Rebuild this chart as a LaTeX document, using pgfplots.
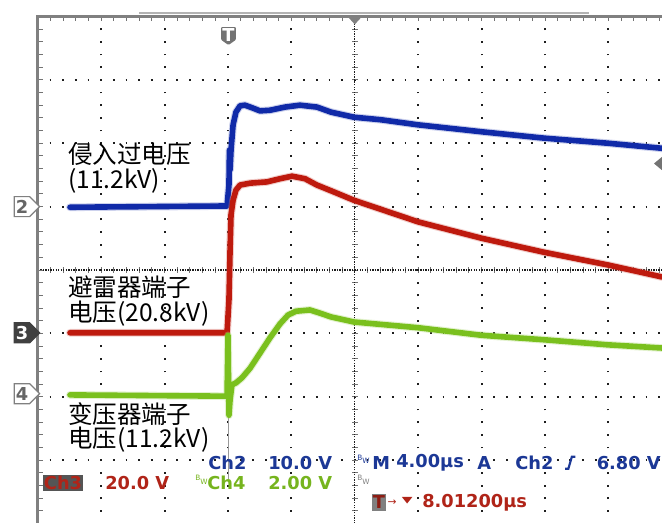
\documentclass[border=0pt]{standalone}
\usepackage{pgfplots}
\pgfplotsset{compat=1.18}
\usepackage{fontspec}
\setmainfont{DejaVu Sans}
\newfontfamily\cjk{Noto Sans CJK SC}
\usetikzlibrary{shapes.symbols}
\definecolor{tblue}{RGB}{16,42,168}
\definecolor{tred}{RGB}{190,26,14}
\definecolor{tgreen}{RGB}{122,192,30}
\definecolor{lblue}{RGB}{28,56,150}
\definecolor{lred}{RGB}{176,36,24}
\definecolor{lgreen}{RGB}{118,180,30}
\definecolor{dotc}{RGB}{30,30,30}
\definecolor{bordc}{RGB}{128,128,128}
\definecolor{boxc}{RGB}{85,85,85}
\newcommand\sfnt{\fontsize{13.35}{14}\selectfont\bfseries}
\newcommand\cjkf{\cjk\fontsize{18.4}{20}\selectfont}
\newcommand\bw{\fontsize{5.5}{5.5}\selectfont\mdseries B\raisebox{-2.5pt}{W}}
\tikzset{
  griddot/.style={draw=dotc, line width=1.4pt, dash pattern=on 1.4pt off 8.11pt, dash phase=0.7pt},
  ticks/.style={draw=black!55, line width=4.5pt, dash pattern=on 0.75pt off 8.76pt, dash phase=0.375pt},
  trace/.style={line width=4.2pt, line join=round, line cap=round},
  fuzz/.style={line width=5.8pt, line join=round, line cap=round, opacity=0.35},
}
\begin{document}
\begin{tikzpicture}
\begin{axis}[scale only axis, width=496.5pt, height=392.25pt,
  xmin=-14.385, xmax=27.381, ymin=-3.990, ymax=4.259,
  axis lines=none, clip=false]

% ---- graticule ----
\pgfplotsinvokeforeach{-8,-4,0,4,12,16,20,24}{
  \draw[griddot] (axis cs:#1,-4) -- (axis cs:#1,4);
}
\pgfplotsinvokeforeach{-3,-2,-1,1,2,3}{
  \draw[griddot] (axis cs:-12,#1) -- (axis cs:28,#1);
}
% centre lines with minor ticks
\draw[ticks] (axis cs:8,-4) -- (axis cs:8,4);
\draw[ticks] (axis cs:-12,0) -- (axis cs:28,0);
\draw[draw=dotc, line width=1pt, dash pattern=on 1pt off 0.9pt] (axis cs:8,-4) -- (axis cs:8,4);
\draw[draw=dotc, line width=1pt, dash pattern=on 1pt off 0.9pt] (axis cs:-12,0) -- (axis cs:28,0);
% border with ticks
\draw[bordc!60, line width=1.2pt] ([yshift=2.6pt]axis cs:-5.6,4) -- ([yshift=2.6pt]axis cs:22.8,4);
\draw[ticks] ([xshift=1.5pt]axis cs:-12,-4) -- ([xshift=1.5pt]axis cs:-12,4);
\draw[ticks] ([yshift=-1.5pt]axis cs:-12,4) -- ([yshift=-1.5pt]axis cs:28,4);
\draw[bordc, line width=2.4pt] (axis cs:-12,-4.1) -- (axis cs:-12,4) -- (axis cs:28,4);
\draw[black!40, line width=0.6pt] (axis cs:0,-2.3) -- (axis cs:0,-3.3);

% ---- Ch2 (blue) ----
\addplot[tblue!60, fuzz] coordinates {
(-9.97,0.99) (-5.0,1.00) (-0.06,1.01) (0.06,1.34) (0.09,1.89) (0.13,1.58) (0.19,1.89)
(0.32,2.29) (0.50,2.49) (0.76,2.59) (1.07,2.60) (1.51,2.56) (2.02,2.51) (2.65,2.52)
(3.60,2.57) (4.54,2.60) (5.61,2.57) (6.50,2.49) (7.95,2.41) (9.65,2.37) (11.99,2.29)
(16.02,2.18) (19.94,2.08) (23.97,2.00) (27.38,1.92)};
\addplot[tblue, trace] coordinates {
(-9.97,0.99) (-5.0,1.00) (-0.06,1.01) (0.06,1.34) (0.09,1.89) (0.13,1.58) (0.19,1.89)
(0.32,2.29) (0.50,2.49) (0.76,2.59) (1.07,2.60) (1.51,2.56) (2.02,2.51) (2.65,2.52)
(3.60,2.57) (4.54,2.60) (5.61,2.57) (6.50,2.49) (7.95,2.41) (9.65,2.37) (11.99,2.29)
(16.02,2.18) (19.94,2.08) (23.97,2.00) (27.38,1.92)};

% ---- Ch3 (red) ----
\addplot[tred!60, fuzz] coordinates {
(-9.97,-0.99) (-5.0,-0.99) (-0.06,-0.99) (0.06,-0.47) (0.13,0.32) (0.19,0.87)
(0.32,1.10) (0.50,1.26) (0.76,1.34) (1.39,1.37) (2.46,1.39) (3.28,1.44) (4.04,1.48)
(4.86,1.44) (5.61,1.34) (6.50,1.25) (7.95,1.10) (11.99,0.76) (16.02,0.50)
(19.94,0.28) (23.97,0.08) (27.38,-0.11)};
\addplot[tred, trace] coordinates {
(-9.97,-0.99) (-5.0,-0.99) (-0.06,-0.99) (0.06,-0.47) (0.13,0.32) (0.19,0.87)
(0.32,1.10) (0.50,1.26) (0.76,1.34) (1.39,1.37) (2.46,1.39) (3.28,1.44) (4.04,1.48)
(4.86,1.44) (5.61,1.34) (6.50,1.25) (7.95,1.10) (11.99,0.76) (16.02,0.50)
(19.94,0.28) (23.97,0.08) (27.38,-0.11)};

% ---- Ch4 (green) ----
\addplot[tgreen!60, fuzz] coordinates {
(-9.97,-1.97) (-5.0,-1.98) (-0.06,-1.99) (0,-1.03) (0.06,-2.29) (0.13,-2.05)
(0.25,-1.81) (0.50,-1.78) (0.88,-1.70) (1.39,-1.55) (2.02,-1.31) (2.65,-1.07)
(3.28,-0.85) (3.79,-0.71) (4.29,-0.65) (5.17,-0.63) (5.80,-0.68) (6.50,-0.74)
(7.95,-0.82) (11.99,-0.91) (16.02,-1.03) (19.94,-1.10) (23.97,-1.18) (27.38,-1.23)};
\addplot[tgreen, trace] coordinates {
(-9.97,-1.97) (-5.0,-1.98) (-0.06,-1.99) (0,-1.03) (0.06,-2.29) (0.13,-2.05)
(0.25,-1.81) (0.50,-1.78) (0.88,-1.70) (1.39,-1.55) (2.02,-1.31) (2.65,-1.07)
(3.28,-0.85) (3.79,-0.71) (4.29,-0.65) (5.17,-0.63) (5.80,-0.68) (6.50,-0.74)
(7.95,-0.82) (11.99,-0.91) (16.02,-1.03) (19.94,-1.10) (23.97,-1.18) (27.38,-1.23)};

% ---- markers ----
\node[signal, signal to=east, draw=bordc, fill=white, line width=0.9pt, minimum height=15pt, minimum width=19pt, inner sep=1pt, text=black!60, font=\sfnt] at (axis cs:-13.0,1.0) {2};
\node[signal, signal to=east, draw=black!75, fill=black!75, line width=0.9pt, minimum height=15pt, minimum width=19pt, inner sep=1pt, text=white, font=\sfnt] at (axis cs:-13.0,-0.99) {3};
\node[signal, signal to=east, draw=bordc, fill=white, line width=0.9pt, minimum height=15pt, minimum width=19pt, inner sep=1pt, text=black!60, font=\sfnt] at (axis cs:-13.0,-1.95) {4};
\fill[black!55, rounded corners=0.8pt] (axis cs:0.03,3.69) ++(-5.6pt,6.75pt) -- ++(11.2pt,0pt) -- ++(0pt,-9.5pt) -- ++(-5.6pt,-4pt) -- ++(-5.6pt,4pt) -- cycle;
\node[text=white, font=\sfnt, inner sep=0] at ([yshift=1pt]axis cs:0.03,3.69) {T};
\fill[black!50] (axis cs:8,4) ++(-5.5pt,0pt) -- ++(11pt,0pt) -- ++(-5.5pt,-6pt) -- cycle;
\fill[black!55] (axis cs:27.381,1.68) ++(0pt,5pt) -- ++(-6pt,-5pt) -- ++(6pt,-5pt) -- cycle;

% ---- labels ----
\node[anchor=west, inner sep=0, font=\cjkf] at (axis cs:-10.09,1.83) {侵入过电压};
\node[anchor=west, inner sep=0, font=\cjkf] at (axis cs:-10.09,1.40) {(11.2kV)};
\node[anchor=west, inner sep=0, font=\cjkf] at (axis cs:-10.09,-0.27) {避雷器端子};
\node[anchor=west, inner sep=0, font=\cjkf] at (axis cs:-10.09,-0.68) {电压(20.8kV)};
\node[anchor=west, inner sep=0, font=\cjkf] at (axis cs:-10.09,-2.27) {变压器端子};
\node[anchor=west, inner sep=0, font=\cjkf] at (axis cs:-10.09,-2.68) {电压(11.2kV)};

% ---- readout ----
\node[anchor=west, inner sep=0, text=lblue, font=\sfnt] at (axis cs:-1.262,-3.04) {Ch2};
\node[anchor=west, inner sep=0, text=lblue, font=\sfnt] at (axis cs:2.524,-3.04) {10.0 V};
\node[anchor=west, inner sep=0, text=lblue] at (axis cs:8.14,-2.99) {\bw};
\node[anchor=west, inner sep=0, text=lblue, font=\sfnt] at (axis cs:9.085,-3.04) {M};
\node[anchor=west, inner sep=0, text=lblue, font=\sfnt] at (axis cs:10.60,-3.04) {4.00µs};
\node[anchor=west, inner sep=0, text=lblue, font=\sfnt] at (axis cs:15.71,-3.04) {A};
\node[anchor=west, inner sep=0, text=lblue, font=\sfnt] at (axis cs:18.11,-3.04) {Ch2};
\draw[lblue, line width=1.6pt] (axis cs:21.60,-3.04) ++(-4pt,-4.5pt) -- ++(2.5pt,0pt) -- ++(2.6pt,9pt) -- ++(2.6pt,0pt);
\node[anchor=west, inner sep=0, text=lblue, font=\sfnt] at (axis cs:23.25,-3.04) {6.80 V};

\node[fill=boxc, text=lred, font=\sfnt, inner sep=1pt, minimum width=30pt, minimum height=12pt] at (axis cs:-10.41,-3.36) {Ch3};
\node[anchor=west, inner sep=0, text=lred, font=\sfnt] at (axis cs:-7.76,-3.36) {20.0 V};
\node[anchor=west, inner sep=0, text=lgreen] at (axis cs:-2.08,-3.31) {\bw};
\node[anchor=west, inner sep=0, text=lgreen, font=\sfnt] at (axis cs:-1.325,-3.36) {Ch4};
\node[anchor=west, inner sep=0, text=lgreen, font=\sfnt] at (axis cs:2.524,-3.36) {2.00 V};
\node[anchor=west, inner sep=0, text=black!50] at (axis cs:8.14,-3.31) {\bw};

\node[fill=black!50, text=lred!80!black, font=\sfnt, inner sep=0.5pt, minimum width=9pt, minimum height=13pt] at (axis cs:9.53,-3.667) {T};
\node[anchor=west, inner sep=0, text=lred, font=\fontsize{8}{8}\selectfont] at (axis cs:10.05,-3.667) {→};
\fill[lred] (axis cs:11.30,-3.63) ++(-4pt,2.5pt) -- ++(8pt,0pt) -- ++(-4pt,-5pt) -- cycle;
\node[anchor=west, inner sep=0, text=lred, font=\sfnt] at (axis cs:12.24,-3.667) {8.01200µs};
\end{axis}
\pgfresetboundingbox
\path[use as bounding box] (current axis.south west) rectangle (current axis.north east);
\end{tikzpicture}
\end{document}
